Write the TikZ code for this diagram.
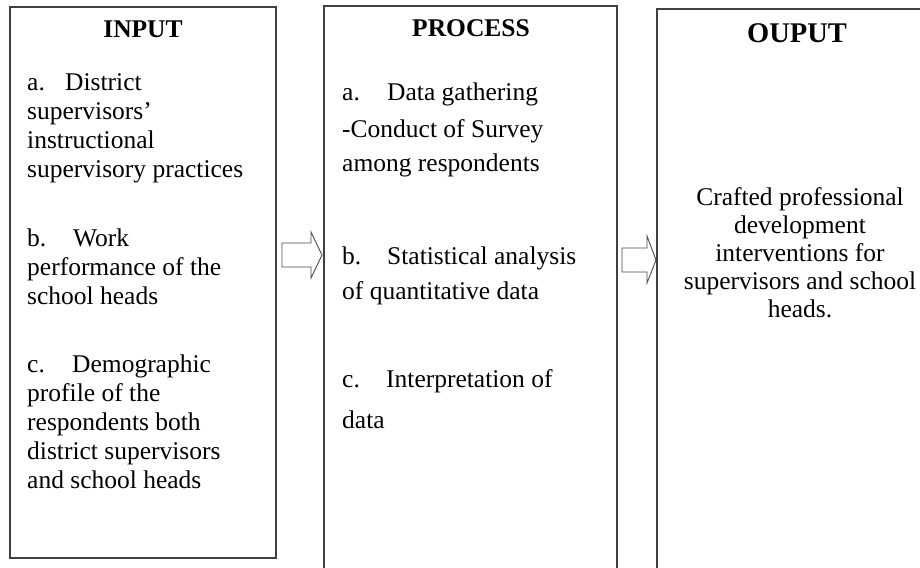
\documentclass[tikz,border=0pt]{standalone}
\usepackage{fontspec}
\setmainfont{Liberation Serif}
\newcommand\itemlbl[2]{\makebox[#1][l]{#2}}
\begin{document}
\begin{tikzpicture}[x=1pt,y=-1pt,
  boxline/.style={draw=black!75, line width=1.1pt},
  blockarrow/.style={draw=black!70, line width=0.9pt, fill=white, line join=miter},
  ttl/.style={font=\fontsize{25.5}{30}\selectfont\bfseries, anchor=base, inner sep=0},
  txt/.style={font=\fontsize{25.5}{30}\selectfont, anchor=base west, inner sep=0},
  ctxt/.style={font=\fontsize{25.5}{30}\selectfont, anchor=base, inner sep=0}]
\useasboundingbox (0,0) rectangle (920,567);
\fill[white] (0,0) rectangle (920,567);

% boxes
\draw[boxline] (10,7) rectangle (276,558);
\draw[boxline] (324,570) -- (324,6) -- (617,6) -- (617,570);
\draw[boxline] (657,570) -- (657,9) -- (925,9);

% block arrows
\draw[blockarrow] (282,243) -- (311,243) -- (311,232) -- (322,255) -- (311,278) -- (311,267) -- (282,267) -- cycle;
\draw[blockarrow] (622,248) -- (647,248) -- (647,236) -- (656,260) -- (647,283) -- (647,272) -- (622,272) -- cycle;

% INPUT
\node[ttl] (inT) at (143,38) {INPUT};
\node[txt] (in1) at (27,90.5) {\itemlbl{38pt}{a.}District};
\node[txt] (in2) at (27,119.5) {supervisors’};
\node[txt] (in3) at (27,148.5) {instructional};
\node[txt] (in4) at (27,177.5) {supervisory practices};
\node[txt] (in5) at (27,246.5) {\itemlbl{46pt}{b.}Work};
\node[txt] (in6) at (27,275.5) {performance of the};
\node[txt] (in7) at (27,304.5) {school heads};
\node[txt] (in8) at (27,372.5) {\itemlbl{45pt}{c.}Demographic};
\node[txt] (in9) at (27,401.5) {profile of the};
\node[txt] (in10) at (27,430.5) {respondents both};
\node[txt] (in11) at (27,459.5) {district supervisors};
\node[txt] (in12) at (27,488.5) {and school heads};

% PROCESS
\node[ttl] (prT) at (471,36.7) {PROCESS};
\node[txt] (pr1) at (342,101) {\itemlbl{45pt}{a.}Data gathering};
\node[txt] (pr2) at (342,138) {-Conduct of Survey};
\node[txt] (pr3) at (342,171) {among respondents};
\node[txt] (pr4) at (342,264) {\itemlbl{45pt}{b.}Statistical analysis};
\node[txt] (pr5) at (342,299) {of quantitative data};
\node[txt] (pr6) at (342,387) {\itemlbl{44pt}{c.}Interpretation of};
\node[txt] (pr7) at (342,428) {data};

% OUTPUT
\node[ttl, font=\fontsize{28.5}{32}\selectfont\bfseries] (ouT) at (797,43) {OUPUT};
\node[ctxt] (ou1) at (800,205.5) {Crafted professional};
\node[ctxt] (ou2) at (800,233.5) {development};
\node[ctxt] (ou3) at (800,261.5) {interventions for};
\node[ctxt] (ou4) at (800,289.5) {supervisors and school};
\node[ctxt] (ou5) at (800,317.5) {heads.};
\end{tikzpicture}
\end{document}
